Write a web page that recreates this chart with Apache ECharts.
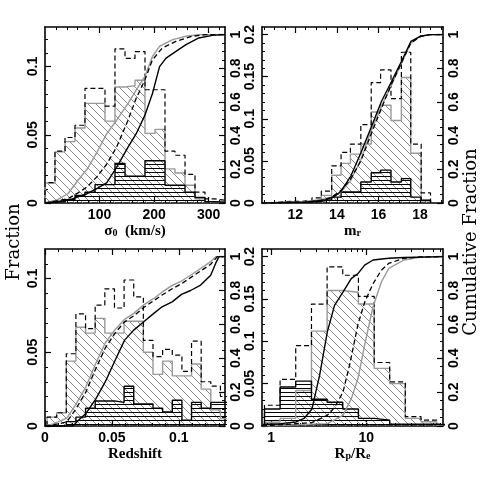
<!DOCTYPE html>
<html lang="en">
<head>
    <meta charset="UTF-8">
    <title>Fraction / Cumulative Fraction</title>
    <script src="https://cdn.jsdelivr.net/npm/echarts@6/dist/echarts.min.js"></script>
    <style>
        html, body { margin: 0; padding: 0; background: #fff; }
        #chart { width: 485px; height: 485px; }
    </style>
</head>
<body>
<div id="chart"></div>
<script>
// ---- panel 1 : sigma_0 ----
var sigmaEdges  = [0, 18.3, 36.7, 55, 73.3, 91.7, 110, 128.3, 146.7, 165, 183.3, 201.7, 220, 238.3, 256.7, 275, 293.3, 311.7, 330];
var sigmaGray   = [0.0147, 0.0375, 0.045, 0.055, 0.073, 0.073, 0.06, 0.085, 0.086, 0.09, 0.051, 0.054, 0.025, 0.022, 0.013, 0.003, 0.001, 0.0005];
var sigmaBlack  = [0.0005, 0.001, 0.0025, 0.0056, 0.008, 0.0135, 0.0135, 0.029, 0.0196, 0.0196, 0.031, 0.031, 0.013, 0.013, 0.008, 0.004, 0.001, 0.0005];
var sigmaDashed = [0.015, 0.038, 0.048, 0.057, 0.084, 0.084, 0.071, 0.113, 0.106, 0.111, 0.083, 0.083, 0.038, 0.035, 0.021, 0.008, 0.003, 0.002];
var sigmaCumGray   = [[0,0],[23,0.02],[42,0.055],[60.5,0.135],[77,0.2],[95,0.3],[113,0.41],[131,0.49],[152,0.59],[167,0.67],[183,0.75],[197,0.87],[210,0.93],[234,0.97],[258.5,0.99],[282,1],[330,1]];
var sigmaCumDashed = [[0,0],[42,0.025],[60.5,0.06],[77,0.095],[95,0.155],[113,0.23],[131,0.33],[152,0.49],[167,0.62],[183,0.73],[197,0.85],[215,0.92],[240,0.96],[270,0.99],[295,1],[330,1]];
var sigmaCumBlack  = [[0,0],[42,0.016],[77,0.055],[95,0.085],[113,0.12],[131,0.21],[152,0.33],[167,0.41],[183,0.52],[197,0.65],[210,0.81],[222,0.86],[240,0.9],[258.5,0.94],[282,0.98],[307,0.995],[330,1]];
var sigmaTicks = [100, 200, 300];

// ---- panel 2 : m_r ----
var magEdges  = [10.8, 11.3, 11.8, 12.3, 12.8, 13.25, 13.75, 14.2, 14.65, 15.15, 15.65, 16.1, 16.6, 17.1, 17.55, 18.05, 18.5];
var magGray   = [0.001, 0.001, 0.001, 0.002, 0.004, 0.009, 0.033, 0.047, 0.058, 0.07, 0.108, 0.116, 0.098, 0.149, 0.059, 0.004];
var magBlack  = [0, 0.001, 0.001, 0.001, 0.002, 0.004, 0.007, 0.013, 0.013, 0.025, 0.036, 0.039, 0.025, 0.029, 0.007, 0.003];
var magDashed = [0.001, 0.002, 0.002, 0.003, 0.006, 0.014, 0.044, 0.06, 0.07, 0.093, 0.143, 0.158, 0.124, 0.179, 0.07, 0.012];
var magCumGray   = [[10.4,0],[12.24,0.006],[13.22,0.02],[13.78,0.036],[14.19,0.065],[14.67,0.135],[15.16,0.26],[15.65,0.43],[16.13,0.57],[16.62,0.7],[17.1,0.83],[17.56,0.95],[18.0,0.99],[18.48,1],[19.1,1]];
var magCumDashed = [[10.4,0],[12.3,0.004],[13.25,0.015],[13.75,0.035],[14.2,0.075],[14.65,0.14],[15.15,0.25],[15.65,0.41],[16.1,0.55],[16.6,0.7],[17.1,0.83],[17.55,0.95],[18.05,0.99],[18.5,1],[19.1,1]];
var magCumBlack  = [[10.4,0],[12.5,0.005],[13.5,0.02],[13.9,0.04],[14.2,0.07],[14.67,0.16],[15.16,0.3],[15.65,0.45],[16.13,0.6],[16.62,0.72],[17.1,0.84],[17.56,0.96],[18.0,0.99],[18.48,1],[19.1,1]];
var magTicks = [12, 14, 16, 18];

// ---- panel 3 : redshift ----
var zEdges  = [0.0015, 0.0087, 0.0159, 0.0231, 0.0303, 0.0375, 0.0447, 0.0519, 0.0591, 0.0663, 0.0735, 0.0807, 0.0879, 0.0951, 0.1023, 0.1095, 0.1167, 0.1239, 0.1311, 0.1383];
var zGray   = [0.006, 0.009, 0.044, 0.067, 0.063, 0.073, 0.063, 0.063, 0.071, 0.071, 0.05, 0.035, 0.044, 0.034, 0.034, 0.042, 0.025, 0.011, 0.005];
var zBlack  = [0, 0, 0.003, 0.006, 0.012, 0.017, 0.017, 0.016, 0.027, 0.015, 0.015, 0.012, 0.0095, 0.0175, 0.004, 0.016, 0.012, 0.016, 0.016];
var zDashed = [0.006, 0.009, 0.049, 0.076, 0.066, 0.082, 0.093, 0.08, 0.099, 0.0875, 0.058, 0.047, 0.052, 0.048, 0.037, 0.0575, 0.03, 0.027, 0.02];
var zCumGray   = [[0,0],[0.0063,0.012],[0.0163,0.047],[0.0225,0.12],[0.0305,0.23],[0.038,0.37],[0.045,0.49],[0.0525,0.57],[0.0595,0.63],[0.0663,0.665],[0.0738,0.715],[0.0813,0.753],[0.0875,0.79],[0.095,0.83],[0.102,0.856],[0.1088,0.89],[0.1163,0.93],[0.1238,0.97],[0.1275,1],[0.1345,1]];
var zCumDashed = [[0,0],[0.0063,0.006],[0.0163,0.024],[0.0225,0.093],[0.0305,0.2],[0.038,0.34],[0.045,0.46],[0.0525,0.55],[0.0595,0.615],[0.0663,0.65],[0.0738,0.7],[0.0813,0.74],[0.0875,0.773],[0.095,0.81],[0.102,0.84],[0.1088,0.876],[0.1163,0.915],[0.1238,0.955],[0.1288,1],[0.1345,1]];
var zCumBlack  = [[0,0],[0.021,0],[0.025,0.034],[0.0305,0.073],[0.038,0.16],[0.045,0.26],[0.0525,0.39],[0.0595,0.507],[0.0663,0.566],[0.0738,0.615],[0.0813,0.665],[0.0875,0.704],[0.095,0.733],[0.102,0.777],[0.1088,0.8],[0.1163,0.832],[0.1238,0.89],[0.1275,0.96],[0.13,1],[0.1345,1]];
var zTicks = [0, 0.05, 0.1];

// ---- panel 4 : Rp/Re (log) ----
var rEdges  = [0.85, 1.24, 1.81, 2.65, 3.87, 5.65, 8.26, 12.1, 17.6, 25.7, 37.6, 54.9, 80];
var rGray   = [0.0045, 0.009, 0.042, 0.112, 0.16, 0.158, 0.144, 0.068, 0.05, 0.009, 0.005, 0.001];
var rBlack  = [0.02, 0.046, 0.053, 0.0315, 0.028, 0.02, 0.009, 0.007, 0.002, 0.002, 0.002, 0.001];
var rDashed = [0.0245, 0.055, 0.095, 0.144, 0.188, 0.178, 0.153, 0.075, 0.052, 0.011, 0.007, 0.002];
var rCumBlack  = [[0.8,0],[0.84,0.01],[1.25,0.014],[1.83,0.024],[2.24,0.047],[2.68,0.1],[3.23,0.3],[3.89,0.556],[4.64,0.714],[5.68,0.79],[6.94,0.87],[8.17,0.9],[9.6,0.95],[11.76,0.98],[17.2,0.99],[24.9,0.995],[64,1]];
var rCumDashed = [[0.8,0],[2.68,0.02],[3.89,0.063],[4.64,0.11],[5.68,0.2],[6.67,0.36],[8.17,0.6],[9.6,0.73],[11.76,0.84],[14.4,0.92],[17.2,0.96],[24.9,0.99],[36.4,0.998],[64,1]];
var rCumGray   = [[0.8,0],[3.89,0.014],[5.68,0.063],[6.94,0.16],[8.17,0.28],[9.6,0.477],[11.76,0.704],[14.4,0.85],[17.2,0.93],[24.9,0.98],[36.4,0.996],[64,1]];
var rTicks = [1, 10];
var rMinor = [0.9, 2, 3, 4, 5, 6, 7, 8, 9, 20, 30, 40, 50, 60];

var fracTicks1 = [0, 0.05, 0.1];
var fracTicks2 = [0, 0.05, 0.1, 0.15, 0.2];
var cumTicks = [0, 0.2, 0.4, 0.6, 0.8, 1];

var GRAY = '#999999';
var SANS = 'Liberation Sans';
var SERIF = 'Liberation Serif';

function steps(a, b, d) {
    var out = [];
    for (var v = a; v <= b + 1e-9; v += d) out.push(Math.round(v * 10000) / 10000);
    return out;
}

function hatchDiag() {
    var c = document.createElement('canvas');
    c.width = 8; c.height = 8;
    var g = c.getContext('2d');
    g.strokeStyle = '#8c8c8c';
    g.lineWidth = 1;
    g.beginPath();
    g.moveTo(-2, -2); g.lineTo(10, 10);
    g.moveTo(-2, 6); g.lineTo(2, 10);
    g.moveTo(6, -2); g.lineTo(10, 2);
    g.stroke();
    return { image: c, repeat: 'repeat' };
}
function hatchHoriz() {
    var c = document.createElement('canvas');
    c.width = 4; c.height = 4;
    var g = c.getContext('2d');
    g.fillStyle = '#000';
    g.fillRect(0, 0, 4, 1);
    return { image: c, repeat: 'repeat' };
}
var diag = hatchDiag();
var horiz = hatchHoriz();

function histPoints(edges, vals) {
    var pts = [[edges[0], 0]];
    for (var i = 0; i < vals.length; i++) pts.push([edges[i], vals[i]]);
    pts.push([edges[vals.length], vals[vals.length - 1]]);
    pts.push([edges[vals.length], 0]);
    return pts;
}

var grids = [
    { left: 45, top: 27, width: 180, height: 176 },
    { left: 262, top: 27, width: 181, height: 176 },
    { left: 45, top: 249, width: 180, height: 177 },
    { left: 262, top: 249, width: 181, height: 177 }
];

var panels = [
    { xType: 'value', xMin: 0, xMax: 330, xTicks: sigmaTicks, xMinor: steps(20, 320, 20),
      name: '{b|σ}{s|0}{b|  (km/s)}', yMax: 0.129, yTicks: fracTicks1, yMinor: steps(0.01, 0.12, 0.01),
      edges: sigmaEdges, gray: sigmaGray, black: sigmaBlack, dashed: sigmaDashed,
      cg: sigmaCumGray, cd: sigmaCumDashed, cb: sigmaCumBlack },
    { xType: 'value', xMin: 10.4, xMax: 19.1, xTicks: magTicks, xMinor: steps(10.5, 19, 0.5),
      name: '{b|m}{s|r}', yMax: 0.209, yTicks: fracTicks2, yMinor: steps(0.01, 0.2, 0.01),
      edges: magEdges, gray: magGray, black: magBlack, dashed: magDashed,
      cg: magCumGray, cd: magCumDashed, cb: magCumBlack },
    { xType: 'value', xMin: 0, xMax: 0.1345, xTicks: zTicks, xMinor: steps(0.01, 0.13, 0.01),
      name: '{b|Redshift}', yMax: 0.12, yTicks: fracTicks1, yMinor: steps(0.01, 0.11, 0.01),
      edges: zEdges, gray: zGray, black: zBlack, dashed: zDashed,
      cg: zCumGray, cd: zCumDashed, cb: zCumBlack },
    { xType: 'log', xMin: 0.8, xMax: 64, xTicks: rTicks, xMinor: rMinor,
      name: '{b|R}{s|p}{b|/R}{s|e}', yMax: 0.209, yTicks: fracTicks2, yMinor: steps(0.01, 0.2, 0.01),
      edges: rEdges, gray: rGray, black: rBlack, dashed: rDashed,
      cg: rCumGray, cd: rCumDashed, cb: rCumBlack }
];

var tickLabel = { color: '#000', fontFamily: SANS, fontSize: 14, fontWeight: 'bold' };
function fmt(v) { return String(v); }

function axisPair(gi, pos, type, min, max, majors, minors, labels, extra) {
    var base = { type: type, gridIndex: gi, position: pos, min: min, max: max,
        splitLine: { show: false }, splitArea: { show: false }, minorTick: { show: false } };
    if (type === 'log') base.logBase = 10;
    var major = Object.assign({}, base, {
        axisLine: { show: true, onZero: false, lineStyle: { color: '#000', width: 1.6 } },
        axisTick: { show: true, inside: true, length: 6, customValues: majors, lineStyle: { color: '#000', width: 1.2 } },
        axisLabel: labels ? Object.assign({ customValues: majors, formatter: fmt }, tickLabel, labels) : { show: false }
    }, extra || {});
    var minor = Object.assign({}, base, {
        axisLine: { show: false, onZero: false },
        axisTick: { show: true, inside: true, length: 3, customValues: minors, lineStyle: { color: '#000', width: 1 } },
        axisLabel: { show: false }
    });
    return [major, minor];
}

var xAxes = [], yAxes = [], series = [];
panels.forEach(function (p, gi) {
    var bx = xAxes.length;
    xAxes = xAxes.concat(axisPair(gi, 'bottom', p.xType, p.xMin, p.xMax, p.xTicks, p.xMinor,
        { margin: 5 },
        { name: p.name, nameLocation: 'middle', nameGap: 19,
          nameTextStyle: { color: '#000', fontFamily: SERIF, fontSize: 15, fontWeight: 'bold', lineHeight: 16,
              rich: { b: { fontFamily: SERIF, fontSize: 15, fontWeight: 'bold', lineHeight: 16 },
                      s: { fontFamily: SERIF, fontSize: 10, fontWeight: 'bold', lineHeight: 6, verticalAlign: 'bottom' } } } }));
    xAxes = xAxes.concat(axisPair(gi, 'top', p.xType, p.xMin, p.xMax, p.xTicks, p.xMinor, null));
    var ly = yAxes.length;
    yAxes = yAxes.concat(axisPair(gi, 'left', 'value', 0, p.yMax, p.yTicks, p.yMinor, { rotate: 90, margin: 5 }));
    var ry = yAxes.length;
    yAxes = yAxes.concat(axisPair(gi, 'right', 'value', 0, 1.045, cumTicks, steps(0.05, 1, 0.05), { rotate: 90, margin: 4 }));

    var common = { type: 'line', xAxisIndex: bx, showSymbol: false, symbol: 'none', silent: true, animation: false };
    series.push(Object.assign({}, common, { yAxisIndex: ly, step: 'end', data: histPoints(p.edges, p.gray),
        lineStyle: { color: GRAY, width: 1.4 }, areaStyle: { color: diag, opacity: 1 } }));
    series.push(Object.assign({}, common, { yAxisIndex: ly, step: 'end', data: histPoints(p.edges, p.black),
        lineStyle: { color: '#000', width: 1.4 }, areaStyle: { color: horiz, opacity: 1 } }));
    series.push(Object.assign({}, common, { yAxisIndex: ly, step: 'end', data: histPoints(p.edges, p.dashed),
        lineStyle: { color: '#000', width: 1.2, type: [5, 3] } }));
    series.push(Object.assign({}, common, { yAxisIndex: ry, data: p.cg, lineStyle: { color: GRAY, width: 1.4 } }));
    series.push(Object.assign({}, common, { yAxisIndex: ry, data: p.cd, lineStyle: { color: '#000', width: 1.3, type: [5, 3] } }));
    series.push(Object.assign({}, common, { yAxisIndex: ry, data: p.cb, lineStyle: { color: '#000', width: 1.4 } }));
});

var chart = echarts.init(document.getElementById('chart'));
chart.setOption({
    backgroundColor: '#fff',
    animation: false,
    grid: grids,
    xAxis: xAxes,
    yAxis: yAxes,
    series: series,
    graphic: [
        { type: 'text', x: 14, y: 242, rotation: Math.PI / 2,
          style: { text: 'Fraction', fill: '#000', font: '18px "DejaVu Serif"', textAlign: 'center', textVerticalAlign: 'middle' } },
        { type: 'text', x: 471, y: 242, rotation: Math.PI / 2,
          style: { text: 'Cumulative Fraction', fill: '#000', font: '18px "DejaVu Serif"', textAlign: 'center', textVerticalAlign: 'middle' } }
    ]
});
</script>
</body>
</html>
